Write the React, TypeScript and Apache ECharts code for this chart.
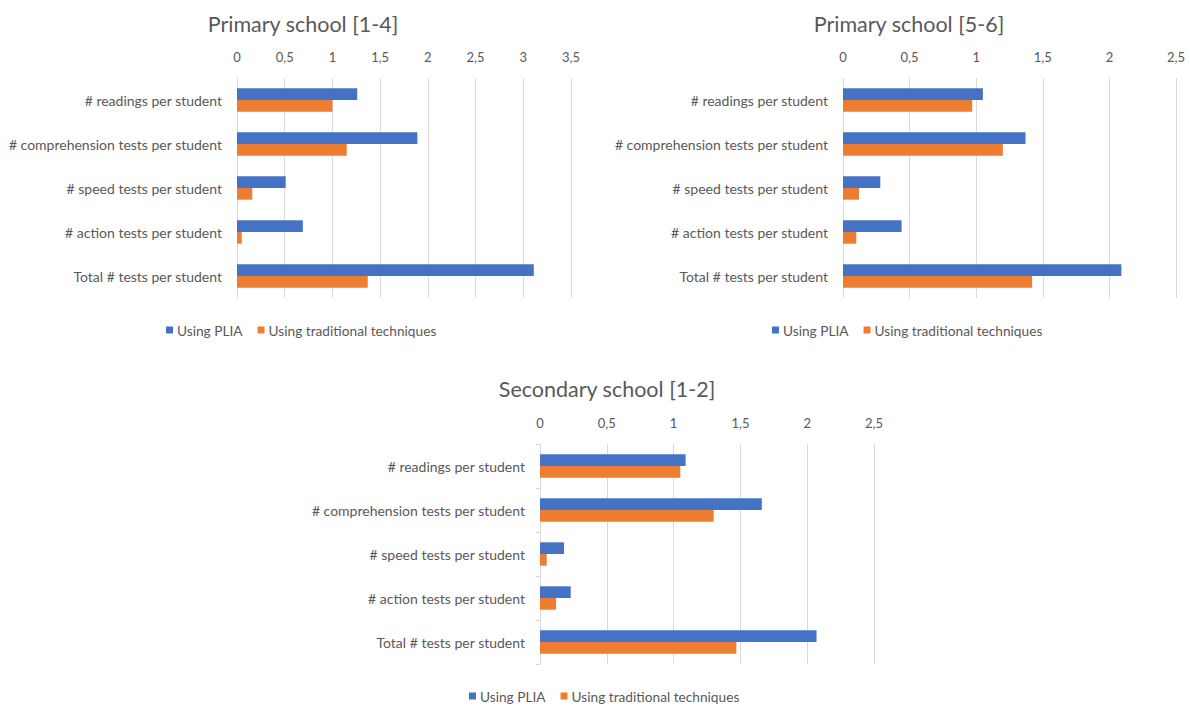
import React, { useEffect, useRef } from "react";
import * as echarts from "echarts";

const categories = [
  "# readings per student",
  "# comprehension tests per student",
  "# speed tests per student",
  "# action tests per student",
  "Total # tests per student",
];
const seriesNames = ["Using PLIA", "Using traditional techniques"];

const titles = ["Primary school [1-4]", "Primary school [5-6]", "Secondary school [1-2]"];

const primary14PLIA = [1.26, 1.89, 0.51, 0.69, 3.11];
const primary14Trad = [1.0, 1.15, 0.16, 0.05, 1.37];
const primary56PLIA = [1.05, 1.37, 0.28, 0.44, 2.09];
const primary56Trad = [0.97, 1.2, 0.12, 0.1, 1.42];
const secondaryPLIA = [1.09, 1.66, 0.18, 0.23, 2.07];
const secondaryTrad = [1.05, 1.3, 0.05, 0.12, 1.47];

const axisMax = [3.5, 2.5, 2.5];

const FONT = "Lato";
const TEXT = "#595959";
const GRIDC = "#D9D9D9";
const BLUE = "#4472C4";
const ORANGE = "#ED7D31";

export default function App() {
  const ref = useRef<HTMLDivElement>(null);
  useEffect(() => {
    document.body.style.margin = "0";
    const chart = echarts.init(ref.current!, undefined, { renderer: "svg" });
    const grids = [
      { left: 237, top: 78, width: 334, height: 220 },
      { left: 843, top: 78, width: 333, height: 220 },
      { left: 540, top: 444, width: 334, height: 220 },
    ];
    const titleCenters = [
      [298, 8],
      [904, 8],
      [602, 373],
    ];
    const legendPos = [
      [161, 318],
      [767, 318],
      [464, 684],
    ];
    const data = [
      [primary14PLIA, primary14Trad],
      [primary56PLIA, primary56Trad],
      [secondaryPLIA, secondaryTrad],
    ];
    const option: any = {
      animation: false,
      textStyle: { fontFamily: FONT },
      title: titles.map((t, i) => ({
        text: t,
        left: titleCenters[i][0],
        top: titleCenters[i][1],
        textAlign: "center",
        textStyle: { fontFamily: FONT, fontSize: 21.5, fontWeight: "normal", color: TEXT },
      })),
      legend: legendPos.map((p, i) => ({
        data: seriesNames,
        left: p[0],
        top: p[1],
        icon: "rect",
        itemWidth: 7,
        itemHeight: 7,
        itemGap: 15,
        selectedMode: false,
        textStyle: { fontFamily: FONT, fontSize: 13.7, color: TEXT, padding: [0, 0, 0, -1] },
      })),
      grid: grids.map((g) => ({ ...g, containLabel: false })),
      xAxis: grids.map((_, i) => ({
        type: "value",
        gridIndex: i,
        position: "top",
        min: 0,
        max: axisMax[i],
        interval: 0.5,
        axisLine: { show: false },
        axisTick: { show: false },
        splitLine: { show: true, lineStyle: { color: GRIDC, width: 1 } },
        axisLabel: {
          color: TEXT,
          fontFamily: FONT,
          fontSize: 13,
          margin: 15,
          formatter: (v: number) => String(v).replace(".", ","),
        },
      })),
      yAxis: grids.map((_, i) => ({
        type: "category",
        gridIndex: i,
        inverse: true,
        data: categories,
        axisLine: { show: i === 2, lineStyle: { color: GRIDC } },
        axisTick: { show: i === 2, length: 4, lineStyle: { color: GRIDC } },
        axisLabel: {
          color: TEXT,
          fontFamily: FONT,
          fontSize: 14,
          margin: 15,
          padding: [0, 0, 3, 0],
        },
      })),
      series: data.flatMap((pair, i) =>
        pair.map((vals, j) => ({
          type: "bar",
          name: seriesNames[j],
          xAxisIndex: i,
          yAxisIndex: i,
          data: vals,
          barWidth: 11.7,
          barGap: "0%",
          itemStyle: { color: j === 0 ? BLUE : ORANGE },
        }))
      ),
    };
    chart.setOption(option);
    return () => chart.dispose();
  }, []);
  return <div ref={ref} style={{ width: 1190, height: 706 }} />;
}
